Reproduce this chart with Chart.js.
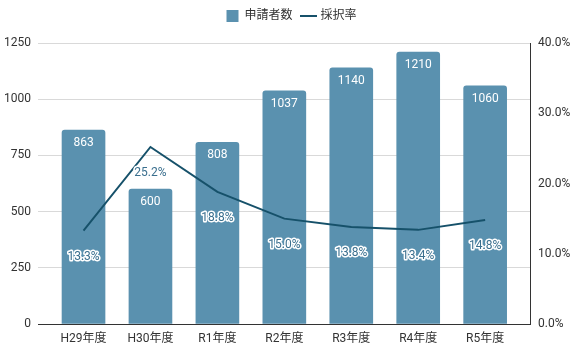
<!DOCTYPE html>
<html>
<head>
<meta charset="utf-8">
<script src="https://cdn.jsdelivr.net/npm/chart.js@4/dist/chart.umd.min.js"></script>
<style>
html,body{margin:0;padding:0;background:#fff;}
#wrap{width:583px;height:356px;position:relative;}
</style>
</head>
<body>
<div id="wrap"><canvas id="c" width="583" height="356"></canvas></div>
<script>
const categories = ["H29年度","H30年度","R1年度","R2年度","R3年度","R4年度","R5年度"];
const applicants = [863, 600, 808, 1037, 1140, 1210, 1060];
const adoptionRate = [13.3, 25.2, 18.8, 15.0, 13.8, 13.4, 14.8];
const leftTicks = [0, 250, 500, 750, 1000, 1250];
const rightTicks = [0, 10, 20, 30, 40];

const FONT = 'Roboto, "Noto Sans CJK JP", "DejaVu Sans", sans-serif';
const BAR = '#5a91af';
const LINE = '#16516a';

const labelPlugin = {
  id: 'valueLabels',
  afterDatasetsDraw(chart) {
    const ctx = chart.ctx;
    ctx.save();
    ctx.font = '12px ' + FONT;
    ctx.textAlign = 'center';
    const m0 = chart.getDatasetMeta(0);
    m0.data.forEach((el, i) => {
      ctx.textBaseline = 'middle';
      ctx.fillStyle = '#ffffff';
      ctx.fillText(String(applicants[i]), el.x, el.y + 13);
    });
    const m1 = chart.getDatasetMeta(1);
    m1.data.forEach((el, i) => {
      const t = adoptionRate[i].toFixed(1) + '%';
      ctx.textBaseline = 'middle';
      ctx.lineJoin = 'round';
      ctx.lineWidth = 3;
      ctx.strokeStyle = '#ffffff';
      ctx.strokeText(t, el.x, el.y + 26);
      ctx.fillStyle = '#3a6f8e';
      ctx.fillText(t, el.x, el.y + 26);
    });
    ctx.restore();
  }
};

const legendSpace = {
  id: 'legendSpace',
  beforeInit(chart) {
    const lg = chart.legend;
    if (lg && !lg._patched) {
      const fit = lg.fit;
      lg.fit = function() { fit.call(this); this.height += 11; };
      lg._patched = true;
    }
  }
};

new Chart(document.getElementById('c'), {
  type: 'bar',
  data: {
    datasets: [
      {
        type: 'bar',
        label: '申請者数',
        data: applicants.map((v, i) => ({x: i, y: v})),
        backgroundColor: BAR,
        borderRadius: {topLeft: 3, topRight: 3, bottomLeft: 0, bottomRight: 0},
        borderSkipped: 'start',
        barThickness: 43,
        yAxisID: 'y',
        order: 1,
        pointStyle: 'rect'
      },
      {
        type: 'line',
        label: '採択率',
        data: adoptionRate.map((v, i) => ({x: i, y: v})),
        borderColor: LINE,
        backgroundColor: LINE,
        borderWidth: 2,
        pointRadius: 0,
        tension: 0,
        yAxisID: 'y1',
        order: 0,
        pointStyle: 'line'
      }
    ]
  },
  options: {
    responsive: false,
    animation: false,
    layout: {padding: {top: 0, left: 0, right: 0, bottom: 0}},
    plugins: {
      tooltip: {enabled: false},
      legend: {
        position: 'top',
        labels: {
          usePointStyle: true,
          boxWidth: 12,
          boxHeight: 12,
          padding: 10,
          color: '#333',
          font: {family: FONT, size: 12},
          sort: (a, b) => a.datasetIndex - b.datasetIndex
        }
      }
    },
    scales: {
      x: {
        type: 'linear',
        offset: false,
        min: -0.68,
        max: 6.67,
        afterBuildTicks(s) {
          s.ticks = categories.map((c, i) => ({value: i}));
        },
        afterFit(s) { s.height = 32; },
        ticks: {
          callback: (v) => categories[v],
          color: '#333',
          font: {family: FONT, size: 12},
          padding: 8,
          maxRotation: 0,
          autoSkip: false
        },
        grid: {display: false, drawTicks: false},
        border: {display: true, color: '#333', width: 1}
      },
      y: {
        position: 'left',
        min: 0,
        max: 1250,
        afterBuildTicks(s) { s.ticks = leftTicks.map(v => ({value: v})); },
        afterFit(s) { s.width = 38; },
        ticks: {
          callback: (v) => String(v),
          color: '#333',
          font: {family: FONT, size: 12},
          padding: 7
        },
        grid: {color: '#d9d9d9', drawTicks: false},
        border: {display: false}
      },
      y1: {
        position: 'right',
        min: 0,
        max: 40,
        afterBuildTicks(s) { s.ticks = rightTicks.map(v => ({value: v})); },
        afterFit(s) { s.width = 53; },
        ticks: {
          callback: (v) => v.toFixed(1) + '%',
          color: '#333',
          font: {family: FONT, size: 12},
          padding: 8
        },
        grid: {display: false, drawTicks: false},
        border: {display: true, color: '#333', width: 1}
      }
    }
  },
  plugins: [labelPlugin, legendSpace]
});
</script>
</body>
</html>
